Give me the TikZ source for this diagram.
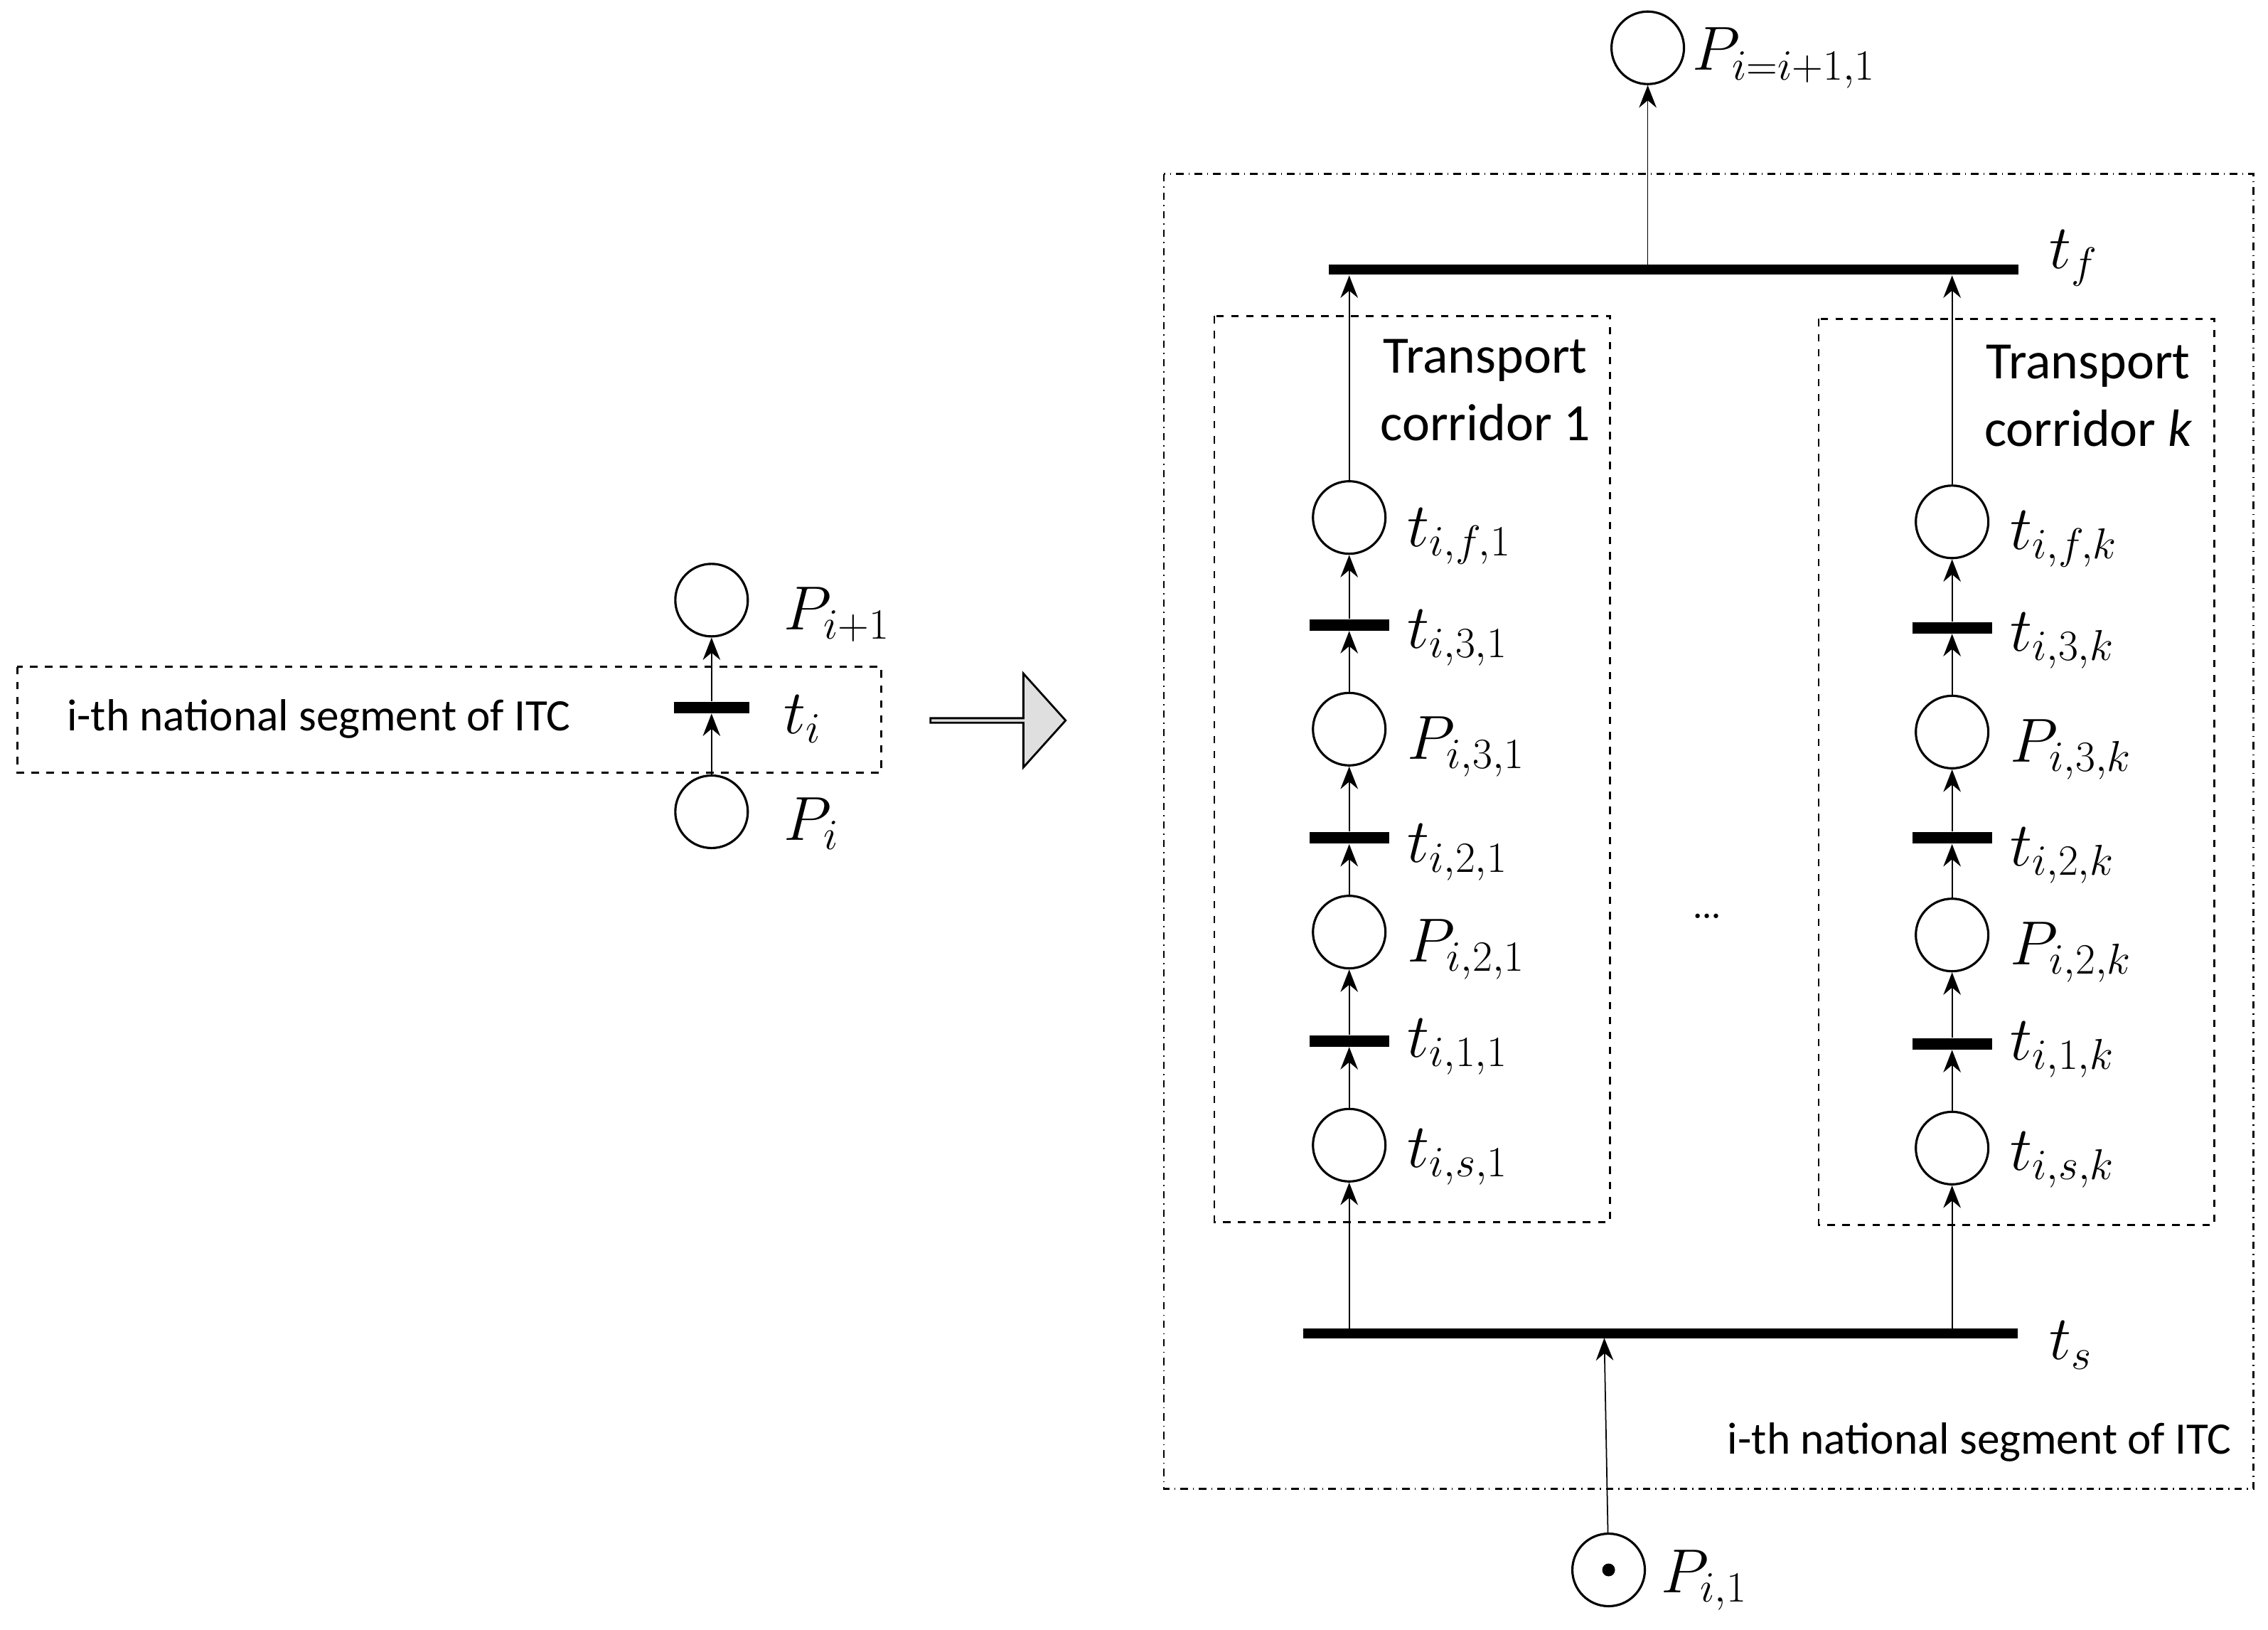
\documentclass[tikz,border=0pt]{standalone}
\usepackage{fontspec}
\newfontfamily\mysf{Carlito}
\usetikzlibrary{arrows.meta,shapes.arrows}
\begin{document}
\begin{tikzpicture}[x=0.02038cm,y=-0.02038cm,
 pl/.style={circle,draw,line width=0.9pt,minimum size=1.02cm,inner sep=0pt},
 tr/.style={fill=black,minimum width=1.12cm,minimum height=0.16cm,inner sep=0pt},
 lb/.style={anchor=west,font=\fontsize{25}{29}\selectfont},
 tx/.style={font=\mysf\fontsize{21}{27}\selectfont,align=center},
 sg/.style={font=\mysf\fontsize{18}{22}\selectfont},
 ar/.style={-{Stealth[length=9pt,width=7pt]},line width=0.5pt}]
\useasboundingbox (0,0) rectangle (1565,1124);
% left part
\draw[dashed,line width=0.7pt] (12,460) rectangle (608,533);
\node[sg] (lt) at (220,496) {i-th national segment of ITC};
\node[pl] (pi1) at (491,414) {};
\node[tr,minimum width=1.06cm] (ti) at (491,488) {};
\node[pl] (pi) at (491,560) {};
\draw[ar] (pi) -- (ti);
\draw[ar] (ti) -- (pi1);
\node[lb] at (535,424) {$P_{i+1}$};
\node[lb] at (535,496) {$t_i$};
\node[lb] at (535,568) {$P_i$};
% big arrow
\node[single arrow,draw,fill=gray!25,line width=0.8pt,minimum height=1.9cm,minimum width=1.32cm,single arrow head extend=0.28cm,inner sep=0pt,single arrow tip angle=96] (ba) at (688,497) {};
% right part
\draw[dash dot,line width=0.7pt] (803,120) rectangle (1555,1027);
\node[pl] (ptop) at (1137,33) {};
\node[lb] at (1162,40) {$P_{i=i+1,1}$};
\node[tr,minimum width=9.7cm,minimum height=0.14cm] (tf) at (1155,186) {};
\node[lb] at (1408,178) {$t_f$};
\coordinate (tfc) at (1137,183);
\draw[ar] (tfc) -- (ptop);
\node[tr,minimum width=10.05cm,minimum height=0.14cm] (ts) at (1146,920) {};
\node[lb] at (1408,928) {$t_s$};
\draw[dashed,line width=0.7pt] (838,218) rectangle (1111,843);
\draw[dashed,line width=0.7pt] (1255,220) rectangle (1528,845);
\node[tx,anchor=north] at (1025,228) {Transport\\corridor 1};
\node[tx,anchor=north] at (1441,232) {Transport\\corridor \textit{k}};
\node[font=\fontsize{22}{26}\selectfont] at (1178,632) {\dots};
\node[sg] at (1366,995) {i-th national segment of ITC};
% column 1
\node[pl] (a1) at (931,357) {};
\node[tr] (a2) at (931,431) {};
\node[pl] (a3) at (931,503) {};
\node[tr] (a4) at (931,578) {};
\node[pl] (a5) at (931,643) {};
\node[tr] (a6) at (931,718) {};
\node[pl] (a7) at (931,790) {};
\foreach \u/\v in {a7/a6,a6/a5,a5/a4,a4/a3,a3/a2,a2/a1} \draw[ar] (\u) -- (\v);
\coordinate (a1t) at (931,190);
\draw[ar] (a1) -- (a1t);
\coordinate (a7b) at (931,917);
\draw[ar] (a7b) -- (a7);
\node[lb] at (965,370) {$t_{i,f,1}$};
\node[lb] at (965,440) {$t_{i,3,1}$};
\node[lb] at (965,515) {$P_{i,3,1}$};
\node[lb] at (965,588) {$t_{i,2,1}$};
\node[lb] at (965,655) {$P_{i,2,1}$};
\node[lb] at (965,722) {$t_{i,1,1}$};
\node[lb] at (965,798) {$t_{i,s,1}$};
% column k
\node[pl] (b1) at (1347,360) {};
\node[tr] (b2) at (1347,433) {};
\node[pl] (b3) at (1347,505) {};
\node[tr] (b4) at (1347,578) {};
\node[pl] (b5) at (1347,645) {};
\node[tr] (b6) at (1347,720) {};
\node[pl] (b7) at (1347,792) {};
\foreach \u/\v in {b7/b6,b6/b5,b5/b4,b4/b3,b3/b2,b2/b1} \draw[ar] (\u) -- (\v);
\coordinate (b1t) at (1347,190);
\draw[ar] (b1) -- (b1t);
\coordinate (b7b) at (1347,917);
\draw[ar] (b7b) -- (b7);
\node[lb] at (1381,372) {$t_{i,f,k}$};
\node[lb] at (1381,442) {$t_{i,3,k}$};
\node[lb] at (1381,517) {$P_{i,3,k}$};
\node[lb] at (1381,590) {$t_{i,2,k}$};
\node[lb] at (1381,657) {$P_{i,2,k}$};
\node[lb] at (1381,724) {$t_{i,1,k}$};
\node[lb] at (1381,800) {$t_{i,s,k}$};
% bottom place
\node[pl] (pb) at (1110,1083) {};
\fill (pb) circle (0.09cm);
\node[lb] at (1140,1090) {$P_{i,1}$};
\coordinate (tsb) at (1107,923);
\draw[ar] (pb) -- (tsb);
\end{tikzpicture}
\end{document}
